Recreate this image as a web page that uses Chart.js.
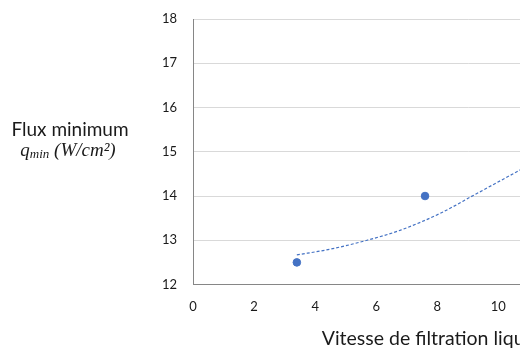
<!DOCTYPE html>
<html>
<head>
<meta charset="utf-8">
<script src="https://cdn.jsdelivr.net/npm/chart.js@4.4.1/dist/chart.umd.min.js"></script>
<style>
	html, body { margin: 0; padding: 0; background: #fff; overflow: hidden; }
	#wrap { width: 520px; height: 356px; overflow: hidden; }
</style>
</head>
<body>
<div id="wrap"><canvas id="fluxChart" width="764" height="356"></canvas></div>
<script>
// Measured points
const vitesse = [3.4, 7.6];
const fluxMin = [12.5, 14.0];

// Trend line
const trendX = [3.4, 4.5, 5.7, 6.8, 8.1, 9.2, 10.8];
const trendY = [12.67, 12.8, 13.0, 13.23, 13.61, 14.02, 14.62];

// Axes
const xTicks = [0, 2, 4, 6, 8, 10, 12, 14, 16, 18];
const yTicks = [12, 13, 14, 15, 16, 17, 18];

const xTitle = 'Vitesse de filtration liquide (mm/s)';
const yTitleLine1 = 'Flux minimum';

const toPoints = (xs, ys) => xs.map((x, i) => ({ x: x, y: ys[i] }));

// y title is drawn flat, left of the axis, with a subscript
const yTitlePlugin = {
	id: 'yTitle',
	afterDraw(chart) {
		const ctx = chart.ctx;
		ctx.save();
		ctx.fillStyle = '#1a1a1a';
		ctx.textBaseline = 'alphabetic';
		ctx.textAlign = 'center';
		ctx.font = '19px Lato';
		ctx.fillText(yTitleLine1, 70, 136);

		const big = 'italic 19px "Liberation Serif"';
		const small = 'italic 13px "Liberation Serif"';
		ctx.textAlign = 'left';
		ctx.font = big;
		const w1 = ctx.measureText('q').width;
		ctx.font = small;
		const w2 = ctx.measureText('min').width;
		ctx.font = big;
		const w3 = ctx.measureText(' (W/cm²)').width;
		let x = 68 - (w1 + w2 + w3) / 2;
		ctx.fillText('q', x, 156);
		x += w1;
		ctx.font = small;
		ctx.fillText('min', x, 158);
		x += w2;
		ctx.font = big;
		ctx.fillText(' (W/cm²)', x, 156);
		ctx.restore();
	}
};

new Chart(document.getElementById('fluxChart'), {
	type: 'scatter',
	data: {
		datasets: [{
			label: 'q min',
			data: toPoints(vitesse, fluxMin),
			backgroundColor: '#4472C4',
			borderColor: '#4472C4',
			pointRadius: 3.8,
			pointHoverRadius: 3.8,
			order: 0
		}, {
			label: 'Tendance',
			data: toPoints(trendX, trendY),
			showLine: true,
			borderColor: '#4472C4',
			borderWidth: 1.2,
			borderDash: [3, 2],
			pointRadius: 0,
			tension: 0.4,
			cubicInterpolationMode: 'monotone',
			order: 1
		}]
	},
	options: {
		responsive: false,
		animation: false,
		devicePixelRatio: 1,
		layout: { padding: { left: 152, top: 19, right: 10, bottom: 7 } },
		plugins: {
			legend: { display: false },
			tooltip: { enabled: false }
		},
		scales: {
			x: {
				type: 'linear',
				min: xTicks[0],
				max: xTicks[xTicks.length - 1],
				afterBuildTicks: axis => { axis.ticks = xTicks.map(v => ({ value: v })); },
				grid: { display: false, drawTicks: false },
				border: { display: true, color: '#868686', width: 1 },
				ticks: { padding: 14, color: '#1a1a1a', font: { family: 'Lato', size: 13 } },
				title: {
					display: true,
					text: xTitle,
					color: '#1a1a1a',
					font: { family: 'Lato', size: 19.5, lineHeight: 1.07 },
					padding: { top: 0, bottom: 0 }
				}
			},
			y: {
				min: yTicks[0],
				max: yTicks[yTicks.length - 1],
				afterBuildTicks: axis => { axis.ticks = yTicks.map(v => ({ value: v })); },
				grid: { color: '#d9d9d9', drawTicks: true, tickLength: 6, tickColor: 'rgba(0,0,0,0)' },
				border: { display: true, color: '#868686', width: 1 },
				ticks: { padding: 10, color: '#1a1a1a', font: { family: 'Lato', size: 13 } }
			}
		}
	},
	plugins: [yTitlePlugin]
});
</script>
</body>
</html>
